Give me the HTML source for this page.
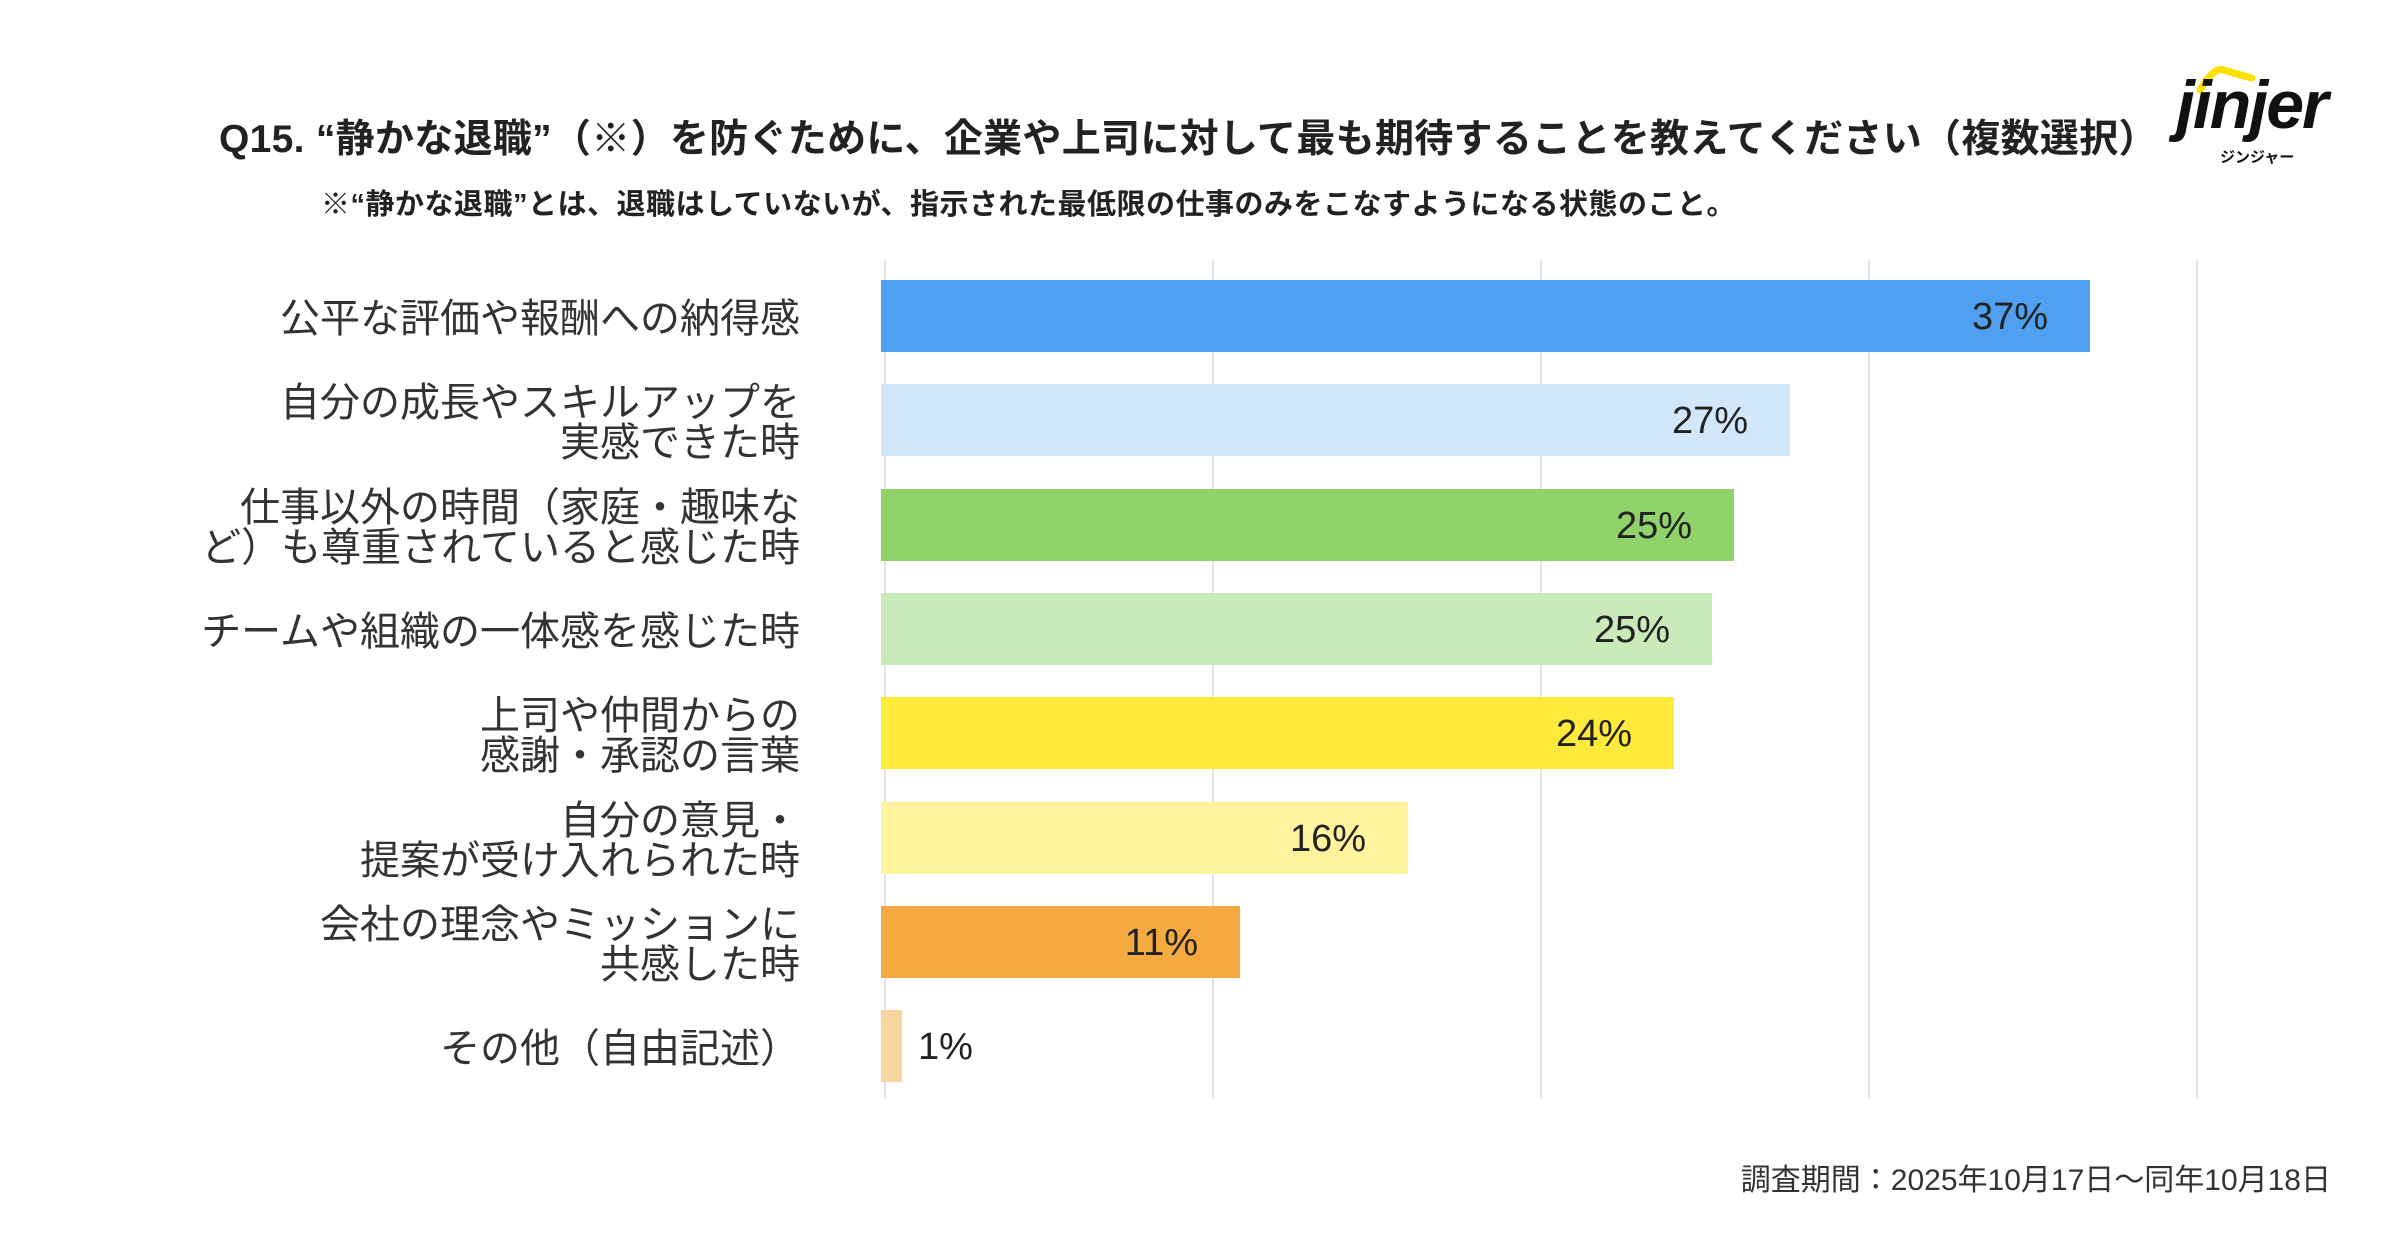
<!DOCTYPE html>
<html><head><meta charset="utf-8"><style>
html,body{margin:0;padding:0;background:#fff;}
body{width:2400px;height:1260px;position:relative;overflow:hidden;font-family:"Liberation Sans","Noto Sans CJK JP",sans-serif;color:#222;}
.a{position:absolute;}
.title{left:219px;top:108px;font-size:39px;font-weight:bold;white-space:nowrap;letter-spacing:0.3px;}
.sub{left:321px;top:181px;font-size:29px;font-weight:bold;white-space:nowrap;letter-spacing:0.5px;}
.grid{width:2px;background:#e3e3e3;top:260px;height:839px;}
.bar{left:881px;height:72px;}
.pct{font-size:38px;line-height:72px;text-align:right;color:#222;}
.lab{right:1600px;font-size:40px;line-height:40px;text-align:right;white-space:nowrap;color:#333;}
</style></head><body>
<div class="a title">Q15. “静かな退職”（※）を防ぐために、企業や上司に対して最も期待することを教えてください（複数選択）</div>
<div class="a sub">※“静かな退職”とは、退職はしていないが、指示された最低限の仕事のみをこなすようになる状態のこと。</div>
<svg class="a" style="left:2196px;top:64px" width="60" height="30"><path d="M4 26 Q18 2 28 6 Q40 10 56 14" stroke="#FFE000" stroke-width="7" fill="none" stroke-linecap="round"/></svg>
<div class="a" style="left:2176px;top:66px;font-size:68px;font-weight:bold;font-style:italic;letter-spacing:-2px;color:#111">jinjer</div>
<div class="a" style="left:2220px;top:146px;font-size:15px;font-weight:bold;color:#111">ジンジャー</div>

<div class="a grid" style="left:884px"></div>
<div class="a grid" style="left:1212px"></div>
<div class="a grid" style="left:1540px"></div>
<div class="a grid" style="left:1868px"></div>
<div class="a grid" style="left:2196px"></div>

<div class="a bar" style="top:280px;width:1209px;background:#4FA0F0"></div>
<div class="a bar" style="top:384px;width:909px;background:#D3E7FA"></div>
<div class="a bar" style="top:489px;width:853px;background:#8FD36A"></div>
<div class="a bar" style="top:593px;width:831px;background:#CBEAB9"></div>
<div class="a bar" style="top:697px;width:793px;background:#FFE93A"></div>
<div class="a bar" style="top:802px;width:527px;background:#FFF39E"></div>
<div class="a bar" style="top:906px;width:359px;background:#F4AA41"></div>
<div class="a bar" style="top:1010px;width:21px;background:#F8D49E"></div>

<div class="a pct" style="top:281px;right:352px">37%</div>
<div class="a pct" style="top:385px;right:652px">27%</div>
<div class="a pct" style="top:490px;right:708px">25%</div>
<div class="a pct" style="top:594px;right:730px">25%</div>
<div class="a pct" style="top:698px;right:768px">24%</div>
<div class="a pct" style="top:803px;right:1034px">16%</div>
<div class="a pct" style="top:907px;right:1202px">11%</div>
<div class="a pct" style="top:1011px;left:918px">1%</div>

<div class="a lab" style="top:299px">公平な評価や報酬への納得感</div>
<div class="a lab" style="top:383px">自分の成長やスキルアップを<br>実感できた時</div>
<div class="a lab" style="top:488px">仕事以外の時間（家庭・趣味な<br>ど）も尊重されていると感じた時</div>
<div class="a lab" style="top:612px">チームや組織の一体感を感じた時</div>
<div class="a lab" style="top:696px">上司や仲間からの<br>感謝・承認の言葉</div>
<div class="a lab" style="top:801px">自分の意見・<br>提案が受け入れられた時</div>
<div class="a lab" style="top:905px">会社の理念やミッションに<br>共感した時</div>
<div class="a lab" style="top:1029px">その他（自由記述）</div>

<div class="a" style="right:69px;top:1155px;font-size:30px;color:#333;white-space:nowrap">調査期間：2025年10月17日〜同年10月18日</div>
</body></html>
